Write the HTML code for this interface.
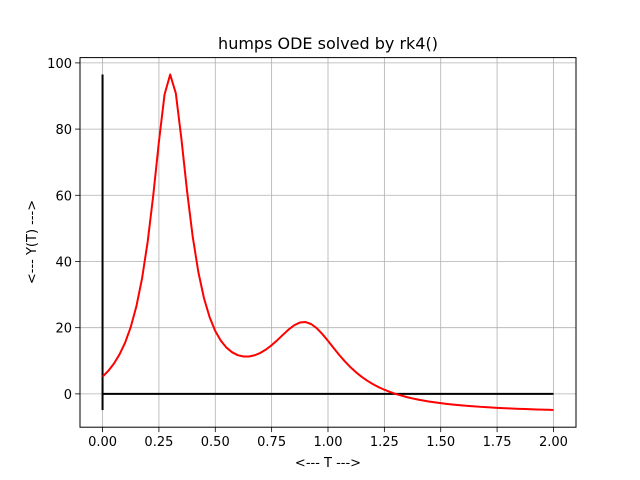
<!DOCTYPE html>
<html><head><meta charset="utf-8"><style>
html,body{margin:0;padding:0;background:#fff;}
svg{display:block;font-family:"DejaVu Sans","Liberation Sans",sans-serif;}
</style></head><body>
<svg id="chart" width="640" height="480" viewBox="0 0 640 480">
<rect width="640" height="480" fill="#fff"/>
<g id="grid"></g>
<g id="marks"></g>
<rect x="80" y="57.6" width="496" height="369.6" fill="none" stroke="#000" stroke-width="1"/>
<g id="ticks"></g>
<text x="328" y="49" text-anchor="middle" font-size="16">humps ODE solved by rk4()</text>
<text x="328" y="467" text-anchor="middle" font-size="13">&lt;--- T ---&gt;</text>
<text transform="translate(36,242) rotate(-90)" text-anchor="middle" font-size="13">&lt;--- Y(T) ---&gt;</text>
</svg>
<script>
const tValues=[0,0.025,0.05,0.075,0.1,0.125,0.15,0.175,0.2,0.225,0.25,0.275,0.3,0.325,0.35,0.375,0.4,0.425,0.45,0.475,0.5,0.525,0.55,0.575,0.6,0.625,0.65,0.675,0.7,0.725,0.75,0.775,0.8,0.825,0.85,0.875,0.9,0.925,0.95,0.975,1.0,1.025,1.05,1.075,1.1,1.125,1.15,1.175,1.2,1.225,1.25,1.275,1.3,1.325,1.35,1.375,1.4,1.425,1.45,1.475,1.5,1.525,1.55,1.575,1.6,1.625,1.65,1.675,1.7,1.725,1.75,1.775,1.8,1.825,1.85,1.875,1.9,1.925,1.95,1.975,2.0];
const yValues=[5.18,6.92,9.10,11.88,15.47,20.18,26.43,34.79,45.89,60.02,76.16,90.44,96.5,90.82,76.92,61.17,47.45,36.79,28.89,23.15,19.00,16.03,13.95,12.55,11.69,11.30,11.30,11.67,12.38,13.41,14.71,16.22,17.85,19.42,20.73,21.55,21.70,21.11,19.84,18.07,16.00,13.85,11.75,9.80,8.04,6.48,5.12,3.94,2.91,2.02,1.25,0.58,-0.01,-0.52,-0.98,-1.38,-1.73,-2.05,-2.33,-2.58,-2.81,-3.02,-3.20,-3.37,-3.52,-3.67,-3.79,-3.91,-4.02,-4.12,-4.22,-4.30,-4.38,-4.46,-4.52,-4.59,-4.65,-4.71,-4.76,-4.81,-4.86];
const xTicks=[0,0.25,0.5,0.75,1.0,1.25,1.5,1.75,2.0];
const xTickLabels=["0.00","0.25","0.50","0.75","1.00","1.25","1.50","1.75","2.00"];
const yTicks=[0,20,40,60,80,100];
const yTickLabels=["0","20","40","60","80","100"];
const NS="http://www.w3.org/2000/svg";
const X0=80,X1=576,Y0=427.2,Y1=57.6,xmin=-0.1,xmax=2.1,ymin=-10.07,ymax=101.6;
function xs(v){return X0+(v-xmin)/(xmax-xmin)*(X1-X0);}
function ys(v){return Y0-(v-ymin)/(ymax-ymin)*(Y0-Y1);}
function mk(tag,attrs,parent){const e=document.createElementNS(NS,tag);for(const k in attrs)e.setAttribute(k,attrs[k]);parent.appendChild(e);return e;}
const grid=document.getElementById('grid'),ticks=document.getElementById('ticks'),marks=document.getElementById('marks');
xTicks.forEach((v,i)=>{const x=xs(v);
 const g=mk('line',{x1:x,x2:x,y1:Y1,y2:Y0,stroke:'#b0b0b0','stroke-width':0.8},grid);
 
 
 const t=mk('line',{x1:x,x2:x,y1:Y0,y2:Y0+4.9,stroke:'#000','stroke-width':0.8},ticks);
 
 
 const l=mk('text',{x:x,y:Y0+19,'text-anchor':'middle','font-size':13},ticks);l.textContent=xTickLabels[i];
 
 
});
yTicks.forEach((v,i)=>{const y=ys(v);
 const g=mk('line',{x1:X0,x2:X1,y1:y,y2:y,stroke:'#b0b0b0','stroke-width':0.8},grid);
 
 
 const t=mk('line',{x1:X0-4.9,x2:X0,y1:y,y2:y,stroke:'#000','stroke-width':0.8},ticks);
 
 
 const l=mk('text',{x:X0-8,y:y+5,'text-anchor':'end','font-size':13},ticks);l.textContent=yTickLabels[i];
 
 
});
const hz=mk('line',{x1:xs(tValues[0]),x2:xs(tValues[tValues.length-1]),y1:ys(0),y2:ys(0),stroke:'#000','stroke-width':2},marks);


const vt=mk('line',{x1:xs(0),x2:xs(0),y1:ys(Math.min(...yValues)),y2:ys(Math.max(...yValues)),stroke:'#000','stroke-width':2},marks);


const pts=tValues.map((t,i)=>xs(t).toFixed(2)+','+ys(yValues[i]).toFixed(2)).join(' ');
const pl=mk('polyline',{points:pts,fill:'none',stroke:'#ff0000','stroke-width':2,'stroke-linejoin':'round'},marks);


</script>
</body></html>
